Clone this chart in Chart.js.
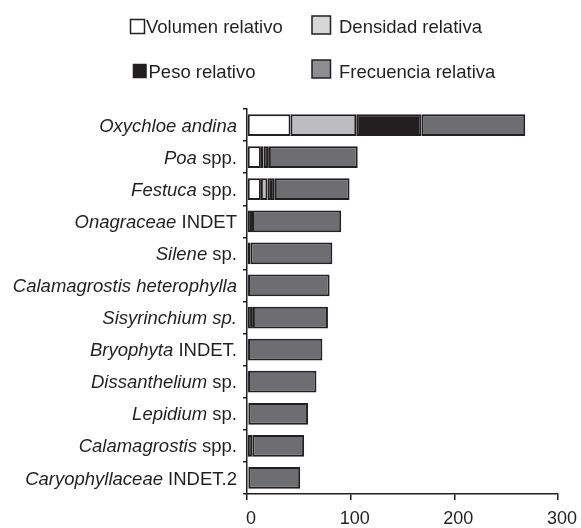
<!DOCTYPE html>
<html>
<head>
<meta charset="utf-8">
<script src="https://cdn.jsdelivr.net/npm/chart.js@4.4.1/dist/chart.umd.min.js"></script>
<style>
  body { margin: 0; background: #ffffff; }
  #wrap { position: relative; width: 581px; height: 528px; }
</style>
</head>
<body>
<div id="wrap"><canvas id="mychart" width="581" height="528"></canvas></div>
<script>
// categories (full names), with the part written in italics
const categories = ['Oxychloe andina', 'Poa spp.', 'Festuca spp.', 'Onagraceae INDET', 'Silene sp.',
    'Calamagrostis heterophylla', 'Sisyrinchium sp.', 'Bryophyta INDET.', 'Dissanthelium sp.',
    'Lepidium sp.', 'Calamagrostis spp.', 'Caryophyllaceae INDET.2'];
const italicParts = ['Oxychloe andina', 'Poa', 'Festuca', 'Onagraceae', 'Silene',
    'Calamagrostis heterophylla', 'Sisyrinchium sp.', 'Bryophyta', 'Dissanthelium',
    'Lepidium', 'Calamagrostis', 'Caryophyllaceae'];

// series values
const volumen = [42, 13.4, 13.4, 0, 0, 0, 0, 0, 0, 0, 0, 0];
const densidad = [63.4, 2.5, 6.3, 0, 0, 0, 0, 0, 0, 0, 0, 0];
const peso = [63, 5.2, 7.1, 4.8, 3.2, 1, 5.7, 1, 1, 1.5, 5.1, 1.5];
const frecuencia = [100, 85.7, 72.1, 86.1, 79.1, 78.7, 72.4, 71.7, 66, 57.4, 50, 49.8];

const seriesNames = ['Volumen relativo', 'Densidad relativa', 'Peso relativo', 'Frecuencia relativa'];
const xTicks = [0, 100, 200, 300];

const ink = '#231f20';
const font = '"Liberation Sans", Arial, sans-serif';

function ds(label, data, color) {
    return {
        label: label,
        data: data,
        backgroundColor: color,
        borderColor: ink,
        borderWidth: 2,
        borderSkipped: false,
        categoryPercentage: 1,
        barPercentage: 0.68,
    };
}

// mixed italic / upright category labels and the two-column legend
const labelsPlugin = {
    id: 'labels',
    afterDraw(chart) {
        const c = chart.ctx;
        const y = chart.scales.y;
        c.save();
        c.fillStyle = ink;
        c.textBaseline = 'alphabetic';
        c.textAlign = 'right';
        const right = 237;
        categories.forEach((name, i) => {
            const it = italicParts[i];
            const rest = name.slice(it.length);
            const py = y.getPixelForValue(i) + 6.6;
            c.font = '18.5px ' + font;
            const w = c.measureText(rest).width;
            c.fillText(rest, right, py);
            c.font = 'italic 18.5px ' + font;
            c.fillText(it, right - w, py);
        });

        // legend
        c.textAlign = 'left';
        c.font = '18.5px ' + font;
        c.lineWidth = 1.5;
        c.strokeStyle = ink;
        const items = [
            {box: [130.5, 19.5, 14, 14], fill: '#ffffff', tx: 146, ty: 33.3},
            {box: [312, 16, 18.5, 18], fill: '#d6d7d9', tx: 339, ty: 33.3},
            {box: [133.5, 64.5, 12.5, 13], fill: ink, tx: 148.5, ty: 78.3},
            {box: [312, 60, 18.5, 18], fill: '#8d8e91', tx: 339, ty: 78.3},
        ];
        items.forEach((it, i) => {
            c.fillStyle = it.fill;
            c.fillRect(...it.box);
            c.strokeRect(...it.box);
            c.fillStyle = ink;
            c.fillText(seriesNames[i], it.tx, it.ty);
        });
        c.restore();
    }
};

const ctx = document.getElementById('mychart');
var chart = new Chart(ctx, {
    type: 'bar',
    data: {
        labels: categories,
        datasets: [
            ds(seriesNames[0], volumen, '#ffffff'),
            ds(seriesNames[1], densidad, '#bcbdc0'),
            ds(seriesNames[2], peso, ink),
            ds(seriesNames[3], frecuencia, '#6d6e71'),
        ],
    },
    options: {
        responsive: false,
        animation: false,
        indexAxis: 'y',
        layout: {
            padding: {
                top: 109,
                right: 21,
                left: 0,
                bottom: 0,
            },
        },
        scales: {
            x: {
                stacked: true,
                min: 0,
                max: 300,
                afterBuildTicks(scale) {
                    scale.ticks = xTicks.map(v => ({value: v}));
                },
                afterFit(scale) {
                    scale.height = 34;
                },
                grid: {
                    drawOnChartArea: false,
                    tickLength: 6,
                    color: ink,
                    lineWidth: 1.5,
                },
                border: {
                    color: ink,
                    width: 1.5,
                },
                ticks: {
                    padding: 8,
                    labelOffset: 4,
                    color: ink,
                    maxRotation: 0,
                    font: {
                        size: 18,
                        family: font,
                    },
                },
            },
            y: {
                stacked: true,
                offset: true,
                afterFit(scale) {
                    scale.width = 247;
                },
                grid: {
                    offset: true,
                    drawOnChartArea: false,
                    tickLength: 4,
                    color: ink,
                    lineWidth: 1.5,
                },
                border: {
                    color: ink,
                    width: 1.5,
                },
                ticks: {
                    display: false,
                },
            }
        },
        plugins: {
            legend: {
                display: false,
            },
            tooltip: {
                enabled: false,
            },
        },
    },
    plugins: [labelsPlugin],
});
</script>
</body>
</html>
